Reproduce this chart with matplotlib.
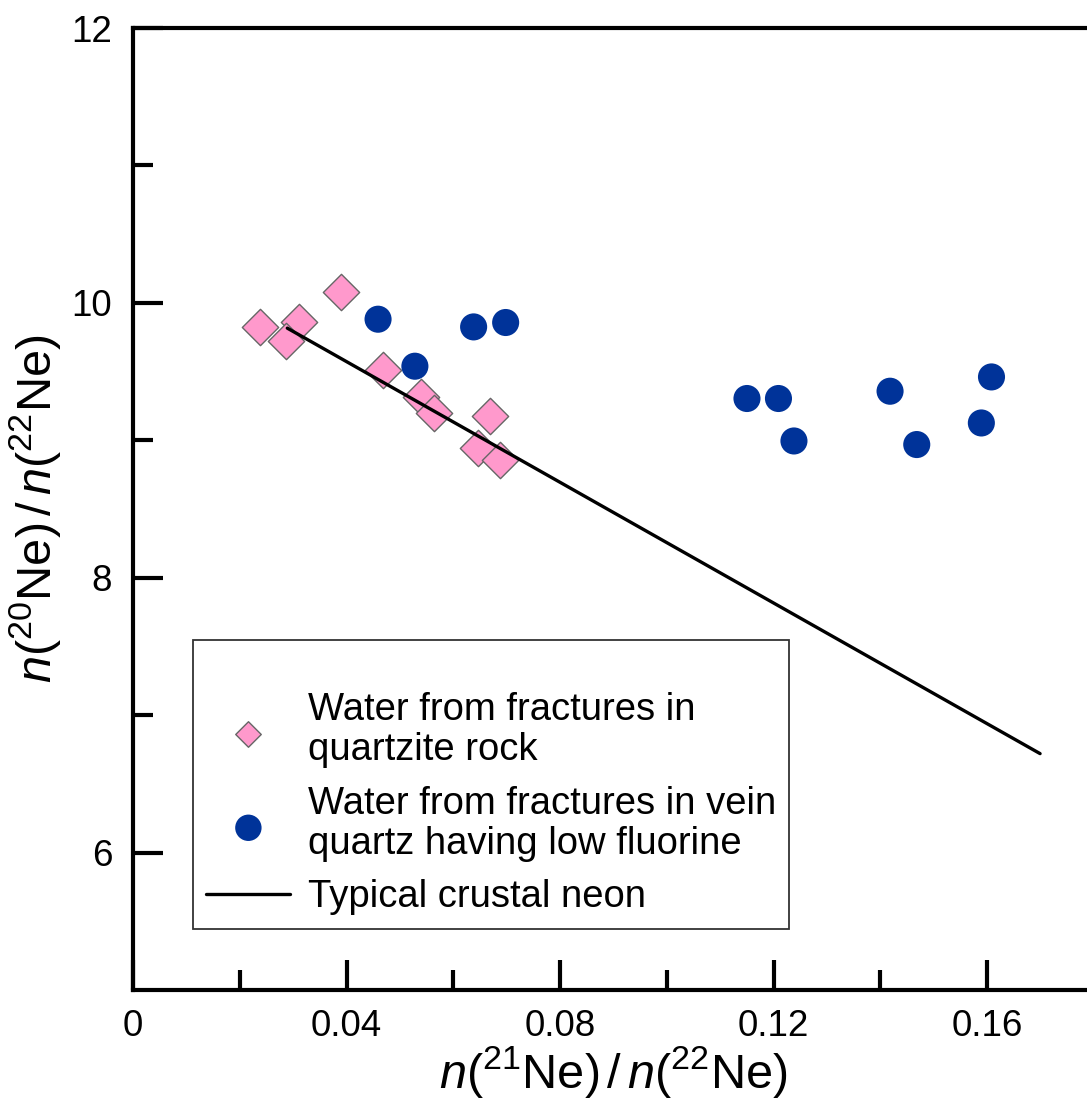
import matplotlib
matplotlib.use("Agg")
import matplotlib.pyplot as plt
from matplotlib.ticker import FixedLocator

plt.rcParams['font.family'] = ['Liberation Sans', 'DejaVu Sans']
plt.rcParams['mathtext.fontset'] = 'custom'
plt.rcParams['mathtext.rm'] = 'Liberation Sans'
plt.rcParams['mathtext.it'] = 'Liberation Sans:italic'

# Data
quartzite_x = [0.0238, 0.0310, 0.0287, 0.0389, 0.0468, 0.0539, 0.0563, 0.0669, 0.0646, 0.0688]
quartzite_y = [9.825, 9.862, 9.721, 10.080, 9.515, 9.316, 9.195, 9.175, 8.944, 8.860]
vein_x = [0.0459, 0.0528, 0.0638, 0.0698, 0.1150, 0.1209, 0.1238, 0.1418, 0.1468, 0.1589, 0.1608]
vein_y = [9.881, 9.539, 9.825, 9.857, 9.304, 9.304, 8.995, 9.357, 8.969, 9.126, 9.461]
crustal_x = [0.0289, 0.1699]
crustal_y = [9.816, 6.72]

labels = ["Water from fractures in\nquartzite rock",
          "Water from fractures in vein\nquartz having low fluorine",
          "Typical crustal neon"]
xticks_major = [0, 0.04, 0.08, 0.12, 0.16]
xtick_labels = ["0", "0.04", "0.08", "0.12", "0.16"]
yticks_major = [6, 8, 10, 12]

W, H = 1087, 1103
fig = plt.figure(figsize=(W / 100, H / 100), dpi=100)
ax = fig.add_axes([133 / W, 1 - 990 / H, (1094 - 133) / W, (990 - 28) / H])

ax.plot(crustal_x, crustal_y, color='black', lw=2.4, solid_capstyle='round',
        label=labels[2], zorder=3)
ax.scatter(quartzite_x, quartzite_y, marker='D', s=18.5 ** 2, facecolor='#ff99cc',
           edgecolor='#666666', linewidth=1.0, label=labels[0], zorder=2)
ax.scatter(vein_x, vein_y, marker='o', s=19.5 ** 2, facecolor='#003399',
           edgecolor='none', label=labels[1], zorder=2)

ax.set_xlim(0, 0.18)
ax.set_ylim(5, 12)

ax.xaxis.set_major_locator(FixedLocator(xticks_major))
ax.set_xticklabels(xtick_labels)
ax.xaxis.set_minor_locator(FixedLocator([0.02, 0.06, 0.10, 0.14]))
ax.yaxis.set_major_locator(FixedLocator(yticks_major))
ax.yaxis.set_minor_locator(FixedLocator([7, 9, 11]))

ax.spines['right'].set_visible(False)
for s in ['left', 'bottom', 'top']:
    ax.spines[s].set_linewidth(3.0)
ax.tick_params(which='both', direction='in', width=3.0, labelsize=26.5,
               top=False, right=False)
ax.tick_params(which='major', length=21.6, pad=14)
ax.tick_params(which='minor', length=14.4)
ax.tick_params(axis='y', which='both', pad=15)

ax.set_xlabel(r'$\mathit{n}(^{21}\mathrm{Ne})\,/\,\mathit{n}(^{22}\mathrm{Ne})$',
              fontsize=35, labelpad=0)
ax.set_ylabel(r'$\mathit{n}(^{20}\mathrm{Ne})\,/\,\mathit{n}(^{22}\mathrm{Ne})$',
              fontsize=35, labelpad=6)

h, l = ax.get_legend_handles_labels()
order = [l.index(labels[0]), l.index(labels[1]), l.index(labels[2])]
leg = ax.legend([h[i] for i in order], [l[i] for i in order],
                loc='upper left', bbox_to_anchor=(193 / W, 1 - 640 / H),
                bbox_transform=fig.transFigure, borderaxespad=0,
                fontsize=27.5, title=' ', title_fontsize=15.5,
                frameon=True, fancybox=False, edgecolor='#333333', framealpha=1,
                handlelength=2.2, handletextpad=0.45, labelspacing=0.46,
                borderpad=0.35)
leg.get_frame().set_linewidth(1.3)
for t in leg.get_texts():
    t.set_linespacing(1.15)
lh = leg.legend_handles
lh[0].set_sizes([13 ** 2])
lh[1].set_sizes([19 ** 2])

fig.savefig('out.png', dpi=100)
